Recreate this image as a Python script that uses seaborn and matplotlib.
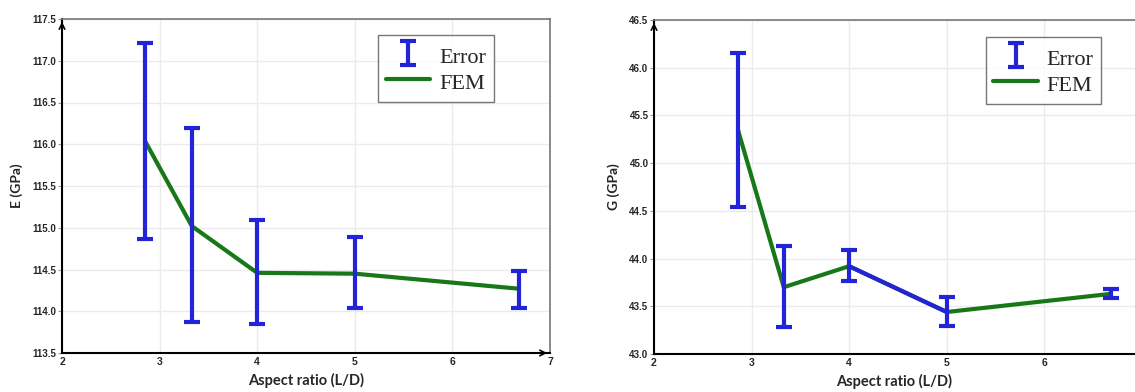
import matplotlib
matplotlib.use("Agg")
import matplotlib.pyplot as plt
import seaborn as sns
import pandas as pd
from matplotlib.container import ErrorbarContainer
from matplotlib.legend_handler import HandlerErrorbar

# Young's modulus panel
x_e = [2.85, 3.33, 4.0, 5.0, 6.68]
fem_e = [116.04, 115.02, 114.46, 114.45, 114.27]
err_lo_e = [114.86, 113.87, 113.85, 114.04, 114.04]
err_hi_e = [117.21, 116.19, 115.09, 114.89, 114.48]

# Shear modulus panel
x_g = [2.86, 3.33, 4.0, 5.0, 6.68]
fem_g = [45.35, 43.70, 43.92, 43.44, 43.63]
err_lo_g = [44.54, 43.28, 43.76, 43.29, 43.59]
err_hi_g = [46.15, 44.13, 44.09, 43.60, 43.68]

x_ticks_e = [2, 3, 4, 5, 6, 7]
x_ticks_g = [2, 3, 4, 5, 6]
e_ticks = [113.5, 114.0, 114.5, 115.0, 115.5, 116.0, 116.5, 117.0, 117.5]
g_ticks = [43.0, 43.5, 44.0, 44.5, 45.0, 45.5, 46.0, 46.5]

blue = "#2323d8"
green = "#187818"

sns.set_style("white")
plt.rcParams['font.family'] = ['Liberation Sans', 'DejaVu Sans']

fig = plt.figure(figsize=(11.35, 3.92), dpi=100)
ax1 = fig.add_axes([62 / 1135, 39 / 392, 488 / 1135, 334 / 392])
ax2 = fig.add_axes([654 / 1135, 38 / 392, 481 / 1135, 334 / 392])


def draw_panel(ax, x, fem, lo, hi, xticks, xmax, yticks, ylabel, show_right):
    df = pd.DataFrame({"x": x, "fem": fem})
    mid = [(a + b) / 2 for a, b in zip(lo, hi)]
    yerr = [[m - a for m, a in zip(mid, lo)], [b - m for m, b in zip(mid, hi)]]

    sns.lineplot(data=df, x="x", y="fem", ax=ax, color=green, lw=3,
                 label="FEM", zorder=3)
    ax.errorbar(x, mid, yerr=yerr, fmt="none", ecolor=blue, elinewidth=3,
                capsize=5.5, capthick=3, label="Error", zorder=4)

    ax.set_xlim(xticks[0], xmax)
    ax.set_ylim(yticks[0], yticks[-1])
    ax.set_xticks(xticks)
    ax.set_yticks(yticks)
    ax.set_xticklabels([str(t) for t in xticks], fontweight="bold", fontsize=7.5)
    ax.set_yticklabels([f"{t:.1f}" for t in yticks], fontweight="bold", fontsize=7)
    ax.grid(True, color="#ebebeb", lw=1)
    ax.tick_params(axis="y", length=3, width=0.8, pad=1, color="#999999", left=True)
    ax.tick_params(axis="x", length=0, pad=3)

    for s in ["left", "bottom"]:
        ax.spines[s].set_color("black")
        ax.spines[s].set_linewidth(1.5)
    ax.spines["top"].set_color("#777777")
    ax.spines["top"].set_linewidth(1.2)
    ax.spines["right"].set_color("#777777")
    ax.spines["right"].set_linewidth(1.2)
    ax.spines["right"].set_visible(show_right)

    # arrow heads at axis ends
    ax.annotate("", xy=(0, 1.0), xytext=(0, 0.97), xycoords="axes fraction",
                arrowprops=dict(arrowstyle="->", color="black", lw=1.2), annotation_clip=False)
    if show_right:
        ax.annotate("", xy=(1.0, 0), xytext=(0.98, 0), xycoords="axes fraction",
                    arrowprops=dict(arrowstyle="->", color="black", lw=1.2), annotation_clip=False)

    ax.set_xlabel("Aspect ratio (L/D)", fontfamily="Lato", fontweight="bold",
                  fontsize=10.5, labelpad=4)
    ax.set_ylabel(ylabel, fontfamily="Lato", fontweight="bold", fontsize=10, labelpad=7)
    return ax


draw_panel(ax1, x_e, fem_e, err_lo_e, err_hi_e, x_ticks_e, 7, e_ticks, "E (GPa)", True)
draw_panel(ax2, x_g, fem_g, err_lo_g, err_hi_g, x_ticks_g, 6.93, g_ticks, "G (GPa)", False)

# in the original the 4 -> 5 segment of the G curve is drawn in blue
ax2.plot(x_g[2:4], fem_g[2:4], color=blue, lw=3, zorder=3.5)

for ax, anchor in [(ax1, (0.885, 0.952)), (ax2, (0.93, 0.949))]:
    h, l = ax.get_legend_handles_labels()
    order = [l.index("Error"), l.index("FEM")]
    leg = ax.legend([h[i] for i in order], [l[i] for i in order],
                    loc="upper right", bbox_to_anchor=anchor,
                    prop={"family": "Liberation Serif", "size": 16},
                    handler_map={ErrorbarContainer: HandlerErrorbar(xerr_size=0.3, yerr_size=0.55)},
                    frameon=True, fancybox=False, borderpad=0.35,
                    handlelength=2.0, handleheight=1.4, handletextpad=0.4,
                    labelspacing=0.0, borderaxespad=0)
    leg.get_frame().set_edgecolor("#555555")
    leg.get_frame().set_linewidth(1)

fig.savefig("out.png", dpi=100)
